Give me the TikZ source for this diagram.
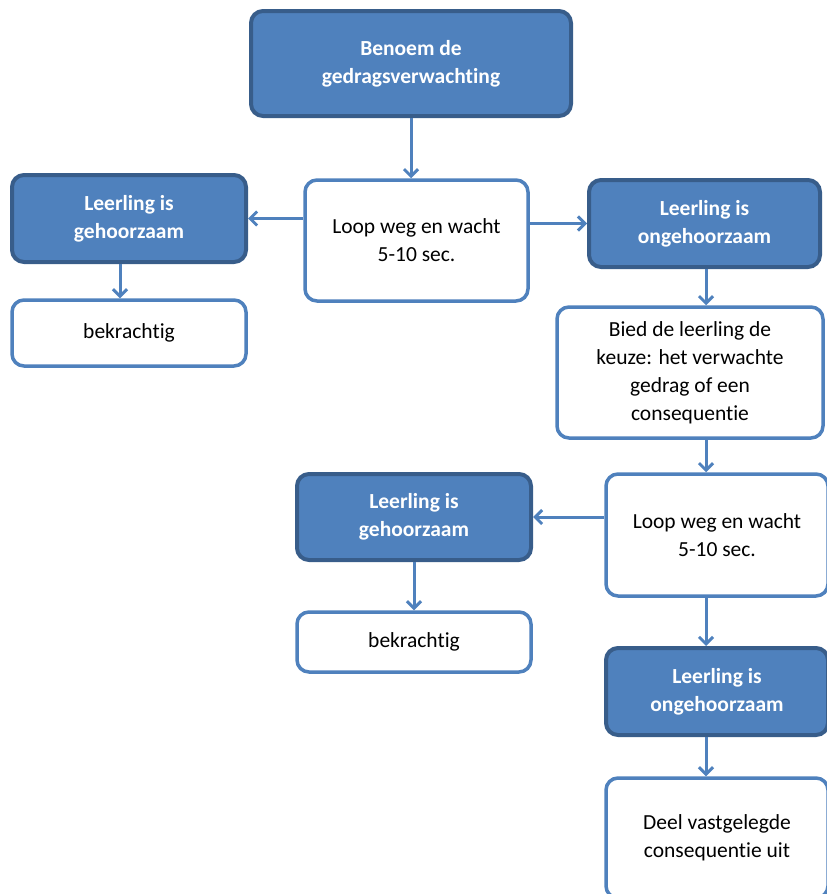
\documentclass[tikz,border=0pt]{standalone}
\usepackage{fontspec}
\setmainfont{Carlito}[Ligatures=NoCommon]
\usetikzlibrary{arrows.meta}
\definecolor{boxblue}{HTML}{4F81BD}
\definecolor{darkblue}{HTML}{385D8A}
\tikzset{
  base/.style={rounded corners=12pt, align=center, inner sep=2pt,
    font=\fontsize{21.5}{28}\selectfont},
  bluebox/.style={base, fill=boxblue, draw=darkblue, line width=4pt, text=white,
    font=\fontsize{21.5}{28}\selectfont\bfseries},
  whitebox/.style={base, fill=white, draw=boxblue, line width=3.5pt, text=black},
  arr/.style={draw=boxblue, line width=3pt, -{Straight Barb[length=7pt,width=14pt]}}
}
\begin{document}
\begin{tikzpicture}[x=1pt,y=-1pt]
\useasboundingbox (0,0) rectangle (827,894);
\node[bluebox, minimum width=320pt, minimum height=105pt] (b1) at (411,63.5) {Benoem de\\gedragsverwachting};
\node[whitebox, minimum width=223pt, minimum height=121pt] (b2) at (416.5,240.5) {Loop weg en wacht\\5-10 sec.};
\node[bluebox, minimum width=234pt, minimum height=87pt] (b3) at (129,218.5) {Leerling is\\gehoorzaam};
\node[whitebox, minimum width=234pt, minimum height=66pt] (b4) at (129,333) {bekrachtig};
\node[bluebox, minimum width=231pt, minimum height=87pt] (b5) at (704.5,223.5) {Leerling is\\ongehoorzaam};
\node[whitebox, minimum width=266pt, minimum height=131pt] (b6) at (690,372.5) {Bied de leerling de\\keuze: het verwachte\\gedrag of een\\consequentie};
\node[whitebox, minimum width=222pt, minimum height=122pt] (b7) at (717,535) {Loop weg en wacht\\5-10 sec.};
\node[bluebox, minimum width=234pt, minimum height=86pt] (b8) at (414,517) {Leerling is\\gehoorzaam};
\node[whitebox, minimum width=234pt, minimum height=60pt] (b9) at (414,642) {bekrachtig};
\node[bluebox, minimum width=222pt, minimum height=87pt] (b10) at (717,691.5) {Leerling is\\ongehoorzaam};
\node[whitebox, minimum width=222pt, minimum height=120pt] (b11) at (717,838) {Deel vastgelegde\\consequentie uit};
\coordinate (vx) at (706,0);
\draw[arr] (b1.south) -- (b1.south |- b2.north);
\draw[arr] (b2.west |- b3.east) -- (b3.east);
\draw[arr] (b2.east |- b5.west) -- (b5.west);
\draw[arr] ([xshift=-9pt]b3.south) -- ([xshift=-9pt]b4.north);
\draw[arr] (vx |- b5.south) -- (vx |- b6.north);
\draw[arr] (vx |- b6.south) -- (vx |- b7.north);
\draw[arr] (b7.west |- b8.east) -- (b8.east);
\draw[arr] (vx |- b7.south) -- (vx |- b10.north);
\draw[arr] (b8.south) -- (b9.north);
\draw[arr] (vx |- b10.south) -- (vx |- b11.north);
\end{tikzpicture}
\end{document}
